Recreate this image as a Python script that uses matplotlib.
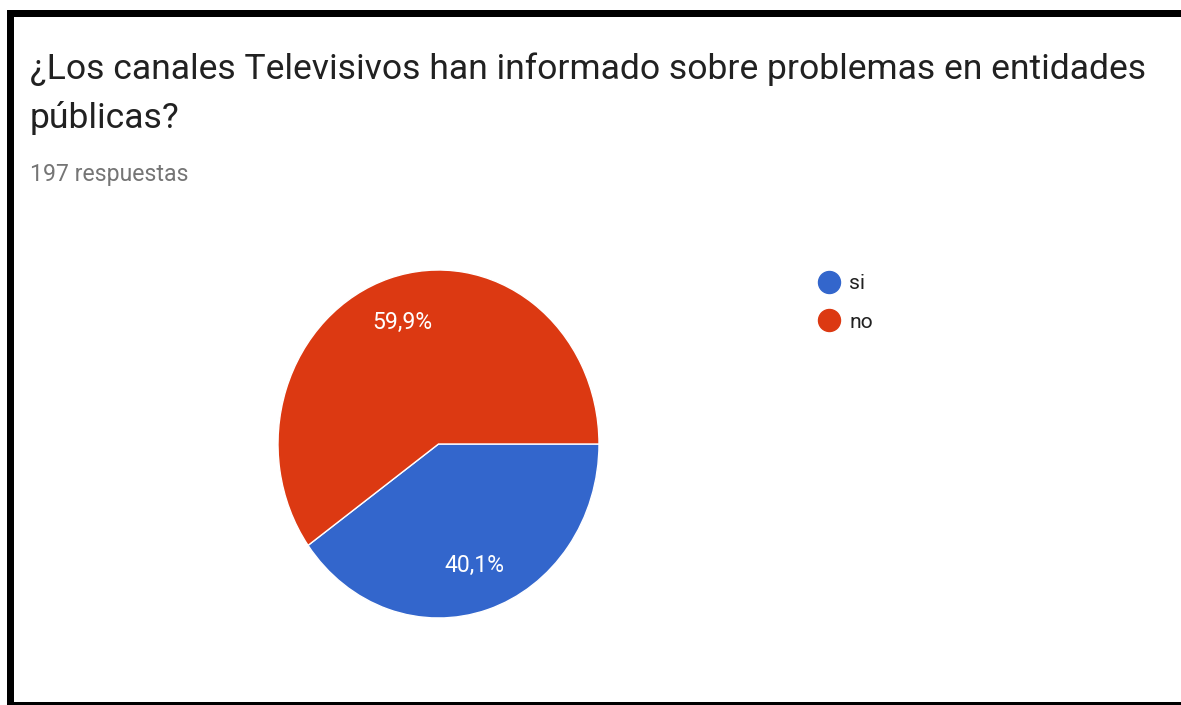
import matplotlib
matplotlib.use("Agg")
import matplotlib.pyplot as plt
from matplotlib.patches import Rectangle
from matplotlib.lines import Line2D

# Survey data (197 answers)
labels = ["si", "no"]
counts = [79, 118]
colors = ["#3366cc", "#dc3912"]
title_lines = ["¿Los canales Televisivos han informado sobre problemas en entidades",
               "públicas?"]
subtitle = "197 respuestas"

W, H = 1181, 705
plt.rcParams['font.family'] = ['Roboto', 'DejaVu Sans']

fig = plt.figure(figsize=(W / 100, H / 100), dpi=100)
fig.patch.set_facecolor("white")


def fx(px):
    return px / W


def fy(py):
    # py measured from the top of the image
    return 1 - py / H


def pt(px):
    return px * 72 / 100


# black frame from the screenshot (top, left and bottom, no right side)
for (x0, y0, x1, y1) in [(7, 10, W, 17), (7, 10, 14, H), (7, 702, W, H)]:
    fig.add_artist(Rectangle((fx(x0), fy(y1)), fx(x1 - x0), (y1 - y0) / H,
                             transform=fig.transFigure, color="black", lw=0))

# title and subtitle
fig.text(fx(30), fy(79), title_lines[0], fontsize=pt(35.5), color="#212121", va="baseline")
fig.text(fx(30), fy(128), title_lines[1], fontsize=pt(35.5), color="#212121", va="baseline")
fig.text(fx(30), fy(181), subtitle, fontsize=pt(23), color="#757575", va="baseline")

# pie
ax = fig.add_axes([fx(278), fy(618), fx(599 - 278), (618 - 270) / H])
wedges, texts, autotexts = ax.pie(
    counts, colors=colors, startangle=0, counterclock=False,
    autopct=lambda p: f"{p:.1f}%".replace(".", ","), pctdistance=0.735,
    wedgeprops=dict(edgecolor="white", linewidth=1),
    textprops=dict(color="white", fontsize=pt(23)))
ax.set_aspect("auto")
ax.set_xlim(-1, 1)
ax.set_ylim(-1, 1)
ax.axis("off")

# legend
handles = [Line2D([], [], marker="o", linestyle="none", markersize=pt(22),
                  markerfacecolor=c, markeredgecolor=c) for c in colors]
leg = fig.legend(handles, labels, loc="upper left",
                 bbox_to_anchor=(fx(818), fy(274)), frameon=False,
                 fontsize=pt(21), handlelength=1.0, handletextpad=0.5,
                 labelspacing=0.93, borderpad=0, borderaxespad=0)
for t in leg.get_texts():
    t.set_color("#212121")

fig.savefig("out.png", dpi=100)
